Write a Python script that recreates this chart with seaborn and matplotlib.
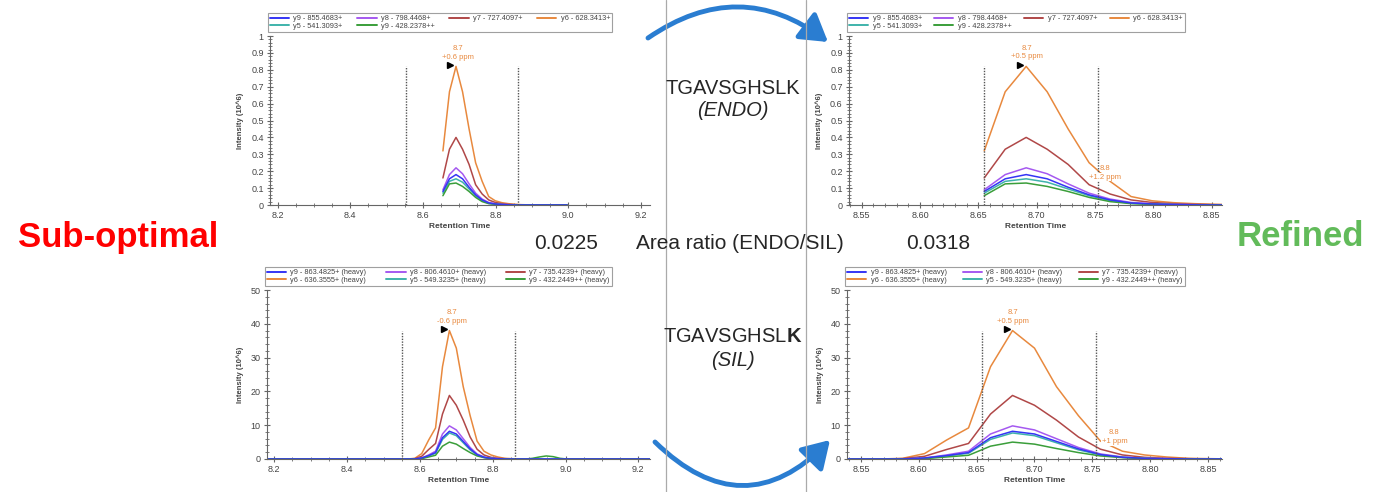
import numpy as np
import pandas as pd
import matplotlib
matplotlib.use("Agg")
import matplotlib.pyplot as plt
from matplotlib.lines import Line2D
from matplotlib.patches import FancyArrowPatch
from matplotlib.ticker import MultipleLocator, FormatStrFormatter, FuncFormatter
import seaborn as sns

sns.set_style("white")
plt.rcParams["font.family"] = ["Liberation Sans", "DejaVu Sans"]
plt.rcParams["mathtext.fontset"] = "custom"
plt.rcParams["mathtext.rm"] = "Liberation Sans"
plt.rcParams["mathtext.bf"] = "Liberation Sans:bold"

# ---------------- data ----------------
# ENDO (light) transitions, intensity in 10^6
endo_rt = [8.655, 8.673, 8.691, 8.709, 8.727, 8.745, 8.763, 8.781, 8.799, 8.817,
           8.835, 8.853, 8.871, 8.889, 8.907, 8.925, 8.943, 8.961, 8.979, 8.997]
endo_y9 = [0.08, 0.155, 0.18, 0.155, 0.105, 0.06, 0.03, 0.012, 0.006, 0.003,
           0.001, 0, 0, 0, 0, 0, 0, 0, 0, 0]
endo_y8 = [0.09, 0.18, 0.22, 0.185, 0.125, 0.07, 0.035, 0.015, 0.008, 0.004,
           0.002, 0.001, 0, 0, 0, 0, 0, 0, 0, 0]
endo_y7 = [0.16, 0.33, 0.40, 0.33, 0.24, 0.12, 0.065, 0.03, 0.015, 0.008,
           0.004, 0.002, 0.001, 0, 0, 0, 0, 0, 0, 0]
endo_y6 = [0.32, 0.67, 0.82, 0.67, 0.45, 0.25, 0.14, 0.05, 0.025, 0.014,
           0.008, 0.004, 0.002, 0.001, 0, 0, 0, 0, 0, 0]
endo_y5 = [0.07, 0.14, 0.155, 0.135, 0.095, 0.055, 0.026, 0.01, 0.005, 0.002,
           0.001, 0, 0, 0, 0, 0, 0, 0, 0, 0]
endo_y9pp = [0.055, 0.125, 0.13, 0.11, 0.08, 0.045, 0.02, 0.008, 0.004, 0.002,
             0.001, 0, 0, 0, 0, 0, 0, 0, 0, 0]
endo_labels = ["y9 - 855.4683+", "y8 - 798.4468+", "y7 - 727.4097+",
               "y6 - 628.3413+", "y5 - 541.3093+", "y9 - 428.2378++"]

# SIL (heavy) transitions, intensity in 10^6
sil_rt = [8.15, 8.567, 8.586, 8.605, 8.624, 8.643, 8.662, 8.681, 8.700, 8.719,
          8.738, 8.757, 8.776, 8.795, 8.814, 8.833, 8.852, 8.871, 8.890, 8.909,
          8.928, 8.947, 8.966, 8.985, 9.004, 9.25]
sil_y9 = [0, 0, 0, 0.3, 1.0, 1.9, 6.3, 8.2, 7.4, 5.2, 3.0, 1.3, 0.5, 0.2, 0.1,
          0, 0, 0, 0, 0, 0, 0, 0, 0, 0, 0]
sil_y8 = [0, 0, 0, 0.3, 1.2, 2.3, 7.4, 9.8, 8.6, 6.0, 3.4, 1.5, 0.6, 0.2, 0.1,
          0, 0, 0, 0, 0, 0, 0, 0, 0, 0, 0]
sil_y7 = [0, 0, 0.1, 0.8, 2.8, 4.6, 13.3, 18.8, 15.9, 11.5, 6.5, 2.9, 1.2, 0.5,
          0.2, 0.1, 0, 0, 0, 0, 0, 0, 0, 0, 0, 0]
sil_y6 = [0, 0, 0.2, 1.6, 5.6, 9.2, 27.3, 38.0, 32.8, 21.4, 12.8, 5.3, 2.3, 1.2,
          0.6, 0.2, 0.1, 0, 0, 0, 0, 0, 0, 0, 0, 0]
sil_y5 = [0, 0, 0, 0.2, 0.9, 1.7, 5.8, 7.7, 6.9, 4.8, 2.7, 1.2, 0.5, 0.2, 0,
          0, 0, 0, 0, 0, 0, 0, 0, 0, 0, 0]
sil_y9pp = [0, 0, 0, 0.1, 0.6, 1.1, 3.8, 5.0, 4.4, 3.1, 1.9, 0.9, 0.4, 0.1, 0,
            0, 0, 0, 0, 0.2, 0.6, 0.9, 0.7, 0.2, 0, 0]
sil_labels = ["y9 - 863.4825+ (heavy)", "y8 - 806.4610+ (heavy)", "y7 - 735.4239+ (heavy)",
              "y6 - 636.3555+ (heavy)", "y5 - 549.3235+ (heavy)", "y9 - 432.2449++ (heavy)"]

ion_keys = ["y9", "y8", "y7", "y6", "y5", "y9++"]
ion_colors = ["#3535f5", "#a559f0", "#b04848", "#e8893e", "#3fb3ab", "#3a9e3a"]
draw_order = ["y6", "y7", "y8", "y5", "y9++", "y9"]

endo_df = pd.DataFrame({"rt": endo_rt * 6,
                        "intensity": endo_y9 + endo_y8 + endo_y7 + endo_y6 + endo_y5 + endo_y9pp,
                        "ion": np.repeat(ion_keys, len(endo_rt))})
sil_df = pd.DataFrame({"rt": sil_rt * 6,
                       "intensity": sil_y9 + sil_y8 + sil_y7 + sil_y6 + sil_y5 + sil_y9pp,
                       "ion": np.repeat(ion_keys, len(sil_rt))})

# integration boundaries
bounds_sub = [8.552, 8.862]
bounds_ref = [8.655, 8.753]

W, H = 1373, 492
fig = plt.figure(figsize=(W / 100, H / 100), dpi=100)
palette = dict(zip(ion_keys, ion_colors))
TXT = "#444444"
ORANGE = "#e8893e"


def panel(rect, df, xlim, ymax, xmaj, xmin, ymaj, ymin, xfmt, bounds, vtop,
          labels, ncol, order, peak_ann, peak_tri, side_ann=None):
    ax = fig.add_axes(rect)
    sns.lineplot(data=df, x="rt", y="intensity", hue="ion", hue_order=draw_order,
                 palette=palette, estimator=None, sort=False, legend=False,
                 linewidth=1.1, ax=ax)
    ax.set_xlim(*xlim)
    ax.set_ylim(0, ymax)
    ax.vlines(bounds, 0, vtop, colors="#555555", linestyles=(0, (1, 1)), linewidth=1.0)
    for s in ["top", "right"]:
        ax.spines[s].set_visible(False)
    for s in ["left", "bottom"]:
        ax.spines[s].set_color("#666666")
        ax.spines[s].set_linewidth(0.8)
    ax.xaxis.set_major_locator(MultipleLocator(xmaj))
    ax.xaxis.set_minor_locator(MultipleLocator(xmin))
    ax.yaxis.set_major_locator(MultipleLocator(ymaj))
    ax.yaxis.set_minor_locator(MultipleLocator(ymin))
    ax.xaxis.set_major_formatter(FormatStrFormatter(xfmt))
    ax.yaxis.set_major_formatter(FuncFormatter(lambda v, p: f"{v:g}"))
    ax.tick_params(axis="both", which="major", direction="inout", length=5, width=0.8,
                   color="#666666", labelsize=6.5, labelcolor=TXT, pad=2)
    ax.tick_params(axis="both", which="minor", direction="inout", length=2.5, width=0.6,
                   color="#666666")
    ax.tick_params(axis="x", which="both", bottom=True)
    ax.tick_params(axis="y", which="both", left=True)
    ax.set_xlabel("Retention Time", fontsize=6, fontweight="bold", color=TXT, labelpad=2)
    ax.set_ylabel("Intensity (10^6)", fontsize=5.5, fontweight="bold", color=TXT, labelpad=5)

    # peak annotation
    px, py1, py2, ptext = peak_ann
    ax.text(px, py1, "8.7", color=ORANGE, fontsize=5.5, ha="center", va="center")
    ax.text(px, py2, ptext, color=ORANGE, fontsize=5.5, ha="center", va="center")
    ax.plot(peak_tri[0], peak_tri[1], marker=">", color="black", markersize=5,
            linestyle="none")
    if side_ann is not None:
        sx, sy1, sy2, stext = side_ann
        ax.text(sx, sy1, "8.8", color=ORANGE, fontsize=5.5, ha="center", va="center",
                bbox=dict(facecolor="white", edgecolor="none", pad=0.3))
        ax.text(sx, sy2, stext, color=ORANGE, fontsize=5.5, ha="center", va="center",
                bbox=dict(facecolor="white", edgecolor="none", pad=0.3))

    handles = [Line2D([], [], color=palette[k], lw=1.4) for k in ion_keys]
    h = [handles[i] for i in order]
    lab = [labels[i] for i in order]
    leg = ax.legend(h, lab, loc="lower left", bbox_to_anchor=(-0.005, 1.025, 0.905, 0.12),
                    mode="expand", ncol=ncol, fontsize=5.3, frameon=True, fancybox=False,
                    handlelength=2.6, handletextpad=0.6, borderpad=0.25,
                    labelspacing=0.05, borderaxespad=0)
    leg.get_frame().set_edgecolor("#888888")
    leg.get_frame().set_linewidth(0.8)
    for t in leg.get_texts():
        t.set_color(TXT)
    return ax


def r(x0, y_top, x1, y_bot):
    return [x0 / W, 1 - y_bot / H, (x1 - x0) / W, (y_bot - y_top) / H]


endo_order = [0, 4, 1, 5, 2, 3]
sil_order = [0, 3, 1, 4, 2, 5]

panel(r(270, 36, 650, 205), endo_df, (8.179, 9.225), 1.0, 0.2, 0.05, 0.1, 0.02, "%.1f",
      bounds_sub, 0.82, endo_labels, 4, endo_order,
      (8.695, 0.925, 0.873, "+0.6 ppm"), (8.675, 0.828))
panel(r(849, 36, 1222, 205), endo_df, (8.539, 8.859), 1.0, 0.05, 0.01, 0.1, 0.02, "%.2f",
      bounds_ref, 0.82, endo_labels, 4, endo_order,
      (8.692, 0.925, 0.876, "+0.5 ppm"), (8.686, 0.828),
      (8.759, 0.217, 0.164, "+1.2 ppm"))
panel(r(267, 290, 650, 459), sil_df, (8.18, 9.232), 50, 0.2, 0.05, 10, 2, "%.1f",
      bounds_sub, 38, sil_labels, 3, sil_order,
      (8.687, 43.3, 40.6, "-0.6 ppm"), (8.667, 38.4))
panel(r(847, 290, 1222, 459), sil_df, (8.538, 8.862), 50, 0.05, 0.01, 10, 2, "%.2f",
      bounds_ref, 38, sil_labels, 3, sil_order,
      (8.681, 43.3, 40.6, "+0.5 ppm"), (8.676, 38.4),
      (8.769, 7.8, 5.1, "+1 ppm"))

# separators
for xs in [666, 806]:
    fig.add_artist(Line2D([xs / W, xs / W], [0, 1], transform=fig.transFigure,
                          color="#aaaaaa", lw=0.9))

# arrows
blue = "#2a7dd1"
fig.add_artist(FancyArrowPatch((648 / W, 1 - 38 / H), (828 / W, 1 - 42 / H),
                               transform=fig.transFigure, connectionstyle="arc3,rad=-0.36",
                               arrowstyle="-|>,head_length=0.9,head_width=0.55",
                               mutation_scale=18, lw=3.5, color=blue,
                               shrinkA=0, shrinkB=0))
fig.add_artist(FancyArrowPatch((655 / W, 1 - 442 / H), (830 / W, 1 - 440 / H),
                               transform=fig.transFigure, connectionstyle="arc3,rad=0.5",
                               arrowstyle="-|>,head_length=0.9,head_width=0.55",
                               mutation_scale=18, lw=3.5, color=blue,
                               shrinkA=0, shrinkB=0))

# centre texts
fig.text(733 / W, 1 - 88 / H, "TGAVSGHSLK", fontsize=14.5, ha="center", va="center")
fig.text(733 / W, 1 - 111 / H, "(ENDO)", fontsize=14.5, style="italic", ha="center", va="center")
fig.text(733 / W, 1 - 337 / H, r"TGAVSGHSL$\mathbf{K}$", fontsize=14.5, ha="center", va="center")
fig.text(733 / W, 1 - 360 / H, "(SIL)", fontsize=14.5, style="italic", ha="center", va="center")
fig.text(566 / W, 1 - 244 / H, "0.0225", fontsize=15, ha="center", va="center")
fig.text(740 / W, 1 - 244 / H, "Area ratio (ENDO/SIL)", fontsize=15, ha="center", va="center")
fig.text(938 / W, 1 - 244 / H, "0.0318", fontsize=15, ha="center", va="center")

fig.text(118 / W, 1 - 237 / H, "Sub-optimal", fontsize=25, fontweight="bold", color="#ff0000",
         ha="center", va="center")
fig.text(1300 / W, 1 - 237 / H, "Refined", fontsize=25, fontweight="bold", color="#62bb5a",
         ha="center", va="center")

fig.savefig("out.png", dpi=100)
